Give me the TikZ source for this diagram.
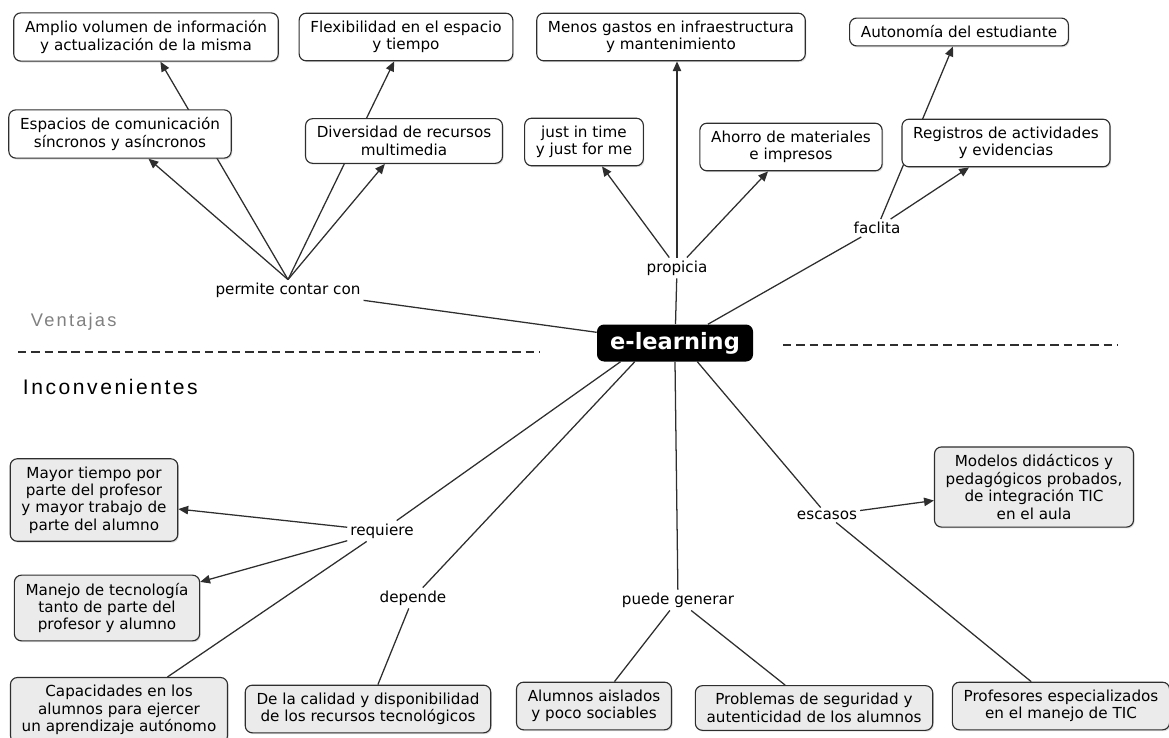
\documentclass[tikz,border=0pt]{standalone}
\usepackage{fontspec}
\setmainfont{DejaVu Sans}
\newfontfamily\sepfont[LetterSpace=12]{Liberation Sans}
\usetikzlibrary{arrows.meta,backgrounds,shadows}
\definecolor{boxgray}{HTML}{EBEBEB}
\definecolor{linegray}{HTML}{2E2E2E}

\begin{document}
\begin{tikzpicture}[x=0.025cm, y=-0.025cm,
  font=\fontsize{10.8}{12.4}\selectfont,
  topbox/.style={draw=linegray, line width=0.8pt, fill=white, rounded corners=5pt, align=center, inner xsep=8pt, inner ysep=5.5pt,
    drop shadow={shadow xshift=0.8pt, shadow yshift=-1pt, opacity=0.25}},
  lowbox/.style={topbox, fill=boxgray},
  linkword/.style={inner sep=2pt},
  link/.style={draw=linegray, line width=0.9pt},
  arrowlink/.style={link, -{Triangle[length=7pt, width=6pt]}}]
\useasboundingbox (0,0) rectangle (1169,737);

% centre
\node[fill=black, text=white, rounded corners=5pt, minimum width=156*0.025cm, minimum height=37*0.025cm, font=\fontsize{16}{18}\selectfont\bfseries] (elearn) at (675,343) {e-learning};

% ventajas
\node[topbox] (amplio) at (146,37) {Amplio volumen de información\\y actualización de la misma};
\node[topbox] (flexib) at (406,37) {Flexibilidad en el espacio\\y tiempo};
\node[topbox] (espacios) at (120,134) {Espacios de comunicación\\síncronos y asíncronos};
\node[topbox] (divers) at (404,141) {Diversidad de recursos\\multimedia};
\node[topbox] (menos) at (671,37) {Menos gastos en infraestructura\\y mantenimiento};
\node[topbox] (autonom) at (959,32) {Autonomía del estudiante};
\node[topbox] (justin) at (584,142) {just in time\\y just for me};
\node[topbox] (ahorro) at (791,147) {Ahorro de materiales\\e impresos};
\node[topbox] (registros) at (1006,143) {Registros de actividades\\y evidencias};

\node[linkword] (permite) at (288,290) {permite contar con};
\node[linkword] (propicia) at (677,268) {propicia};
\node[linkword] (faclita) at (877,228) {faclita};

% inconvenientes
\node[lowbox] (mayor) at (94,500) {Mayor tiempo por\\parte del profesor\\y mayor trabajo de\\parte del alumno};
\node[lowbox] (manejo) at (107,608) {Manejo de tecnología\\tanto de parte del\\profesor y alumno};
\node[lowbox] (capac) at (119,710) {Capacidades en los\\alumnos para ejercer\\un aprendizaje autónomo};
\node[lowbox] (calidad) at (368,709) {De la calidad y disponibilidad\\de los recursos tecnológicos};
\node[lowbox] (aislados) at (594,706) {Alumnos aislados\\y poco sociables};
\node[lowbox] (problemas) at (814,708) {Problemas de seguridad y\\autenticidad de los alumnos};
\node[lowbox] (profes) at (1061,706) {Profesores especializados\\en el manejo de TIC};
\node[lowbox] (modelos) at (1034,487) {Modelos didácticos y\\pedagógicos probados,\\de integración TIC\\en el aula};

\node[linkword] (requiere) at (382,531) {requiere};
\node[linkword] (depende) at (413,598) {depende};
\node[linkword] (puedegen) at (678,600) {puede generar};
\node[linkword] (escasos) at (827,515) {escasos};

% separator
\node[anchor=west, text=black!50, font=\sepfont\fontsize{13}{15}\selectfont] (ventajas) at (26,322) {Ventajas};
\node[anchor=west, font=\sepfont\fontsize{15}{17}\selectfont] (inconv) at (18,387) {Inconvenientes};
\draw[linegray, line width=0.9pt, dash pattern=on 6pt off 3.5pt] (18,352) -- (540,352);
\draw[linegray, line width=0.9pt, dash pattern=on 6pt off 3.5pt] (783,345) -- (1118,345);

\begin{scope}[on background layer]
\draw[link] (elearn) -- (permite);
\draw[arrowlink] (permite.north) -- (amplio);
\draw[arrowlink] (permite.north) -- (espacios);
\draw[arrowlink] (permite.north) -- (flexib);
\draw[arrowlink] (permite.north) -- (divers);
\draw[link] (elearn) -- (propicia);
\draw[arrowlink] (propicia.north) -- (menos.south -| propicia.north);
\draw[arrowlink] (propicia) -- (justin);
\draw[arrowlink] (propicia) -- (ahorro);
\draw[link] (elearn) -- (faclita);
\draw[arrowlink] (faclita) -- (registros);
\draw[arrowlink] (faclita) -- (autonom);

\draw[link] (elearn.199) -- (requiere);
\draw[arrowlink] (requiere) -- (mayor);
\draw[arrowlink] (requiere) -- (manejo);
\draw[link] (requiere) -- (capac);
\draw[link] (elearn.205) -- (depende);
\draw[link] (depende) -- (calidad);
\draw[link] (elearn.south) -- (puedegen);
\draw[link] (puedegen) -- (aislados.50);
\draw[link] (puedegen) -- (problemas);
\draw[link] (elearn.320) -- (escasos);
\draw[arrowlink] (escasos) -- (modelos);
\draw[link] (escasos) -- (profes);
\end{scope}
\end{tikzpicture}
\end{document}
